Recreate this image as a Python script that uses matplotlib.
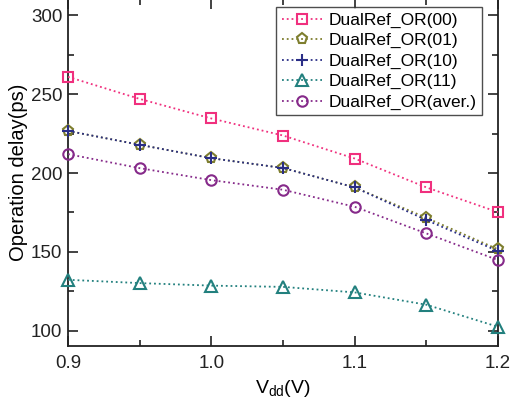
import numpy as np
import matplotlib.pyplot as plt
from matplotlib.ticker import MultipleLocator

plt.rcParams['font.family'] = ['Liberation Sans', 'DejaVu Sans']

# supply voltage (V)
vdd = [0.9, 0.95, 1.0, 1.05, 1.1, 1.15, 1.2]

# operation delay (ps) per input pattern
delay_00 = [261, 247, 234.6, 223.8, 209.2, 190.9, 175.2]
delay_01 = [226.7, 217.9, 209.4, 203.2, 190.9, 171.6, 151.6]
delay_10 = [226.7, 217.9, 209.4, 203.2, 190.9, 170.2, 150.5]
delay_11 = [132.3, 130.2, 128.6, 127.8, 124.3, 116.5, 102.5]
delay_avg = [212, 203.1, 195.5, 189.4, 178.6, 161.7, 144.8]

labels = ['DualRef_OR(00)', 'DualRef_OR(01)', 'DualRef_OR(10)',
          'DualRef_OR(11)', 'DualRef_OR(aver.)']

fig = plt.figure(figsize=(5.12, 4.04), dpi=100)
ax = fig.add_axes([68/512, 1 - 345.7/404, 430/512, 345.7/404 + 0.003])

series = [delay_00, delay_01, delay_10, delay_11, delay_avg]
colors = ['#F0307E', '#7E7E2E', '#2A2E86', '#22807E', '#862A8A']
markers = ['s', 'p', '+', '^', 'o']
sizes = [7, 8, 9, 8.5, 7.5]

for ys, c, m, s, lab in zip(series, colors, markers, sizes, labels):
    ax.plot(vdd, ys, linestyle=':', color=c, linewidth=1.3, marker=m,
            markersize=s, markerfacecolor='none', markeredgecolor=c,
            markeredgewidth=1.5, label=lab, clip_on=False, zorder=3)

ax.set_xlim(0.9, 1.2)
ax.set_ylim(90.5, 310.5)
ax.xaxis.set_major_locator(MultipleLocator(0.1))
ax.xaxis.set_minor_locator(MultipleLocator(0.05))
ax.yaxis.set_major_locator(MultipleLocator(50))
ax.yaxis.set_minor_locator(MultipleLocator(25))
ax.set_xticks([0.9, 1.0, 1.1, 1.2])
ax.set_xticklabels(['0.9', '1.0', '1.1', '1.2'])
ax.tick_params(which='both', direction='in', top=True, right=True,
               labelsize=13.5, width=1.2, colors='#222222')
ax.tick_params(which='major', length=7)
ax.tick_params(which='minor', length=4)
ax.tick_params(axis='x', which='major', pad=7)
ax.tick_params(axis='y', which='major', pad=4)
for sp in ax.spines.values():
    sp.set_linewidth(1.3)
    sp.set_color('#222222')

ax.set_xlabel('V$_{\\mathregular{dd}}$(V)', fontsize=14, labelpad=4)
ax.set_ylabel('Operation delay(ps)', fontsize=14.5, labelpad=2)

leg = ax.legend(loc='upper right', fontsize=12.5, frameon=True, fancybox=False,
                edgecolor='#222222', borderpad=0.3, labelspacing=0.3,
                handlelength=2.3, handletextpad=0.4, borderaxespad=0.0,
                bbox_to_anchor=(0.962, 0.975))
leg.get_frame().set_linewidth(1.0)

fig.savefig('out.png', dpi=100)
